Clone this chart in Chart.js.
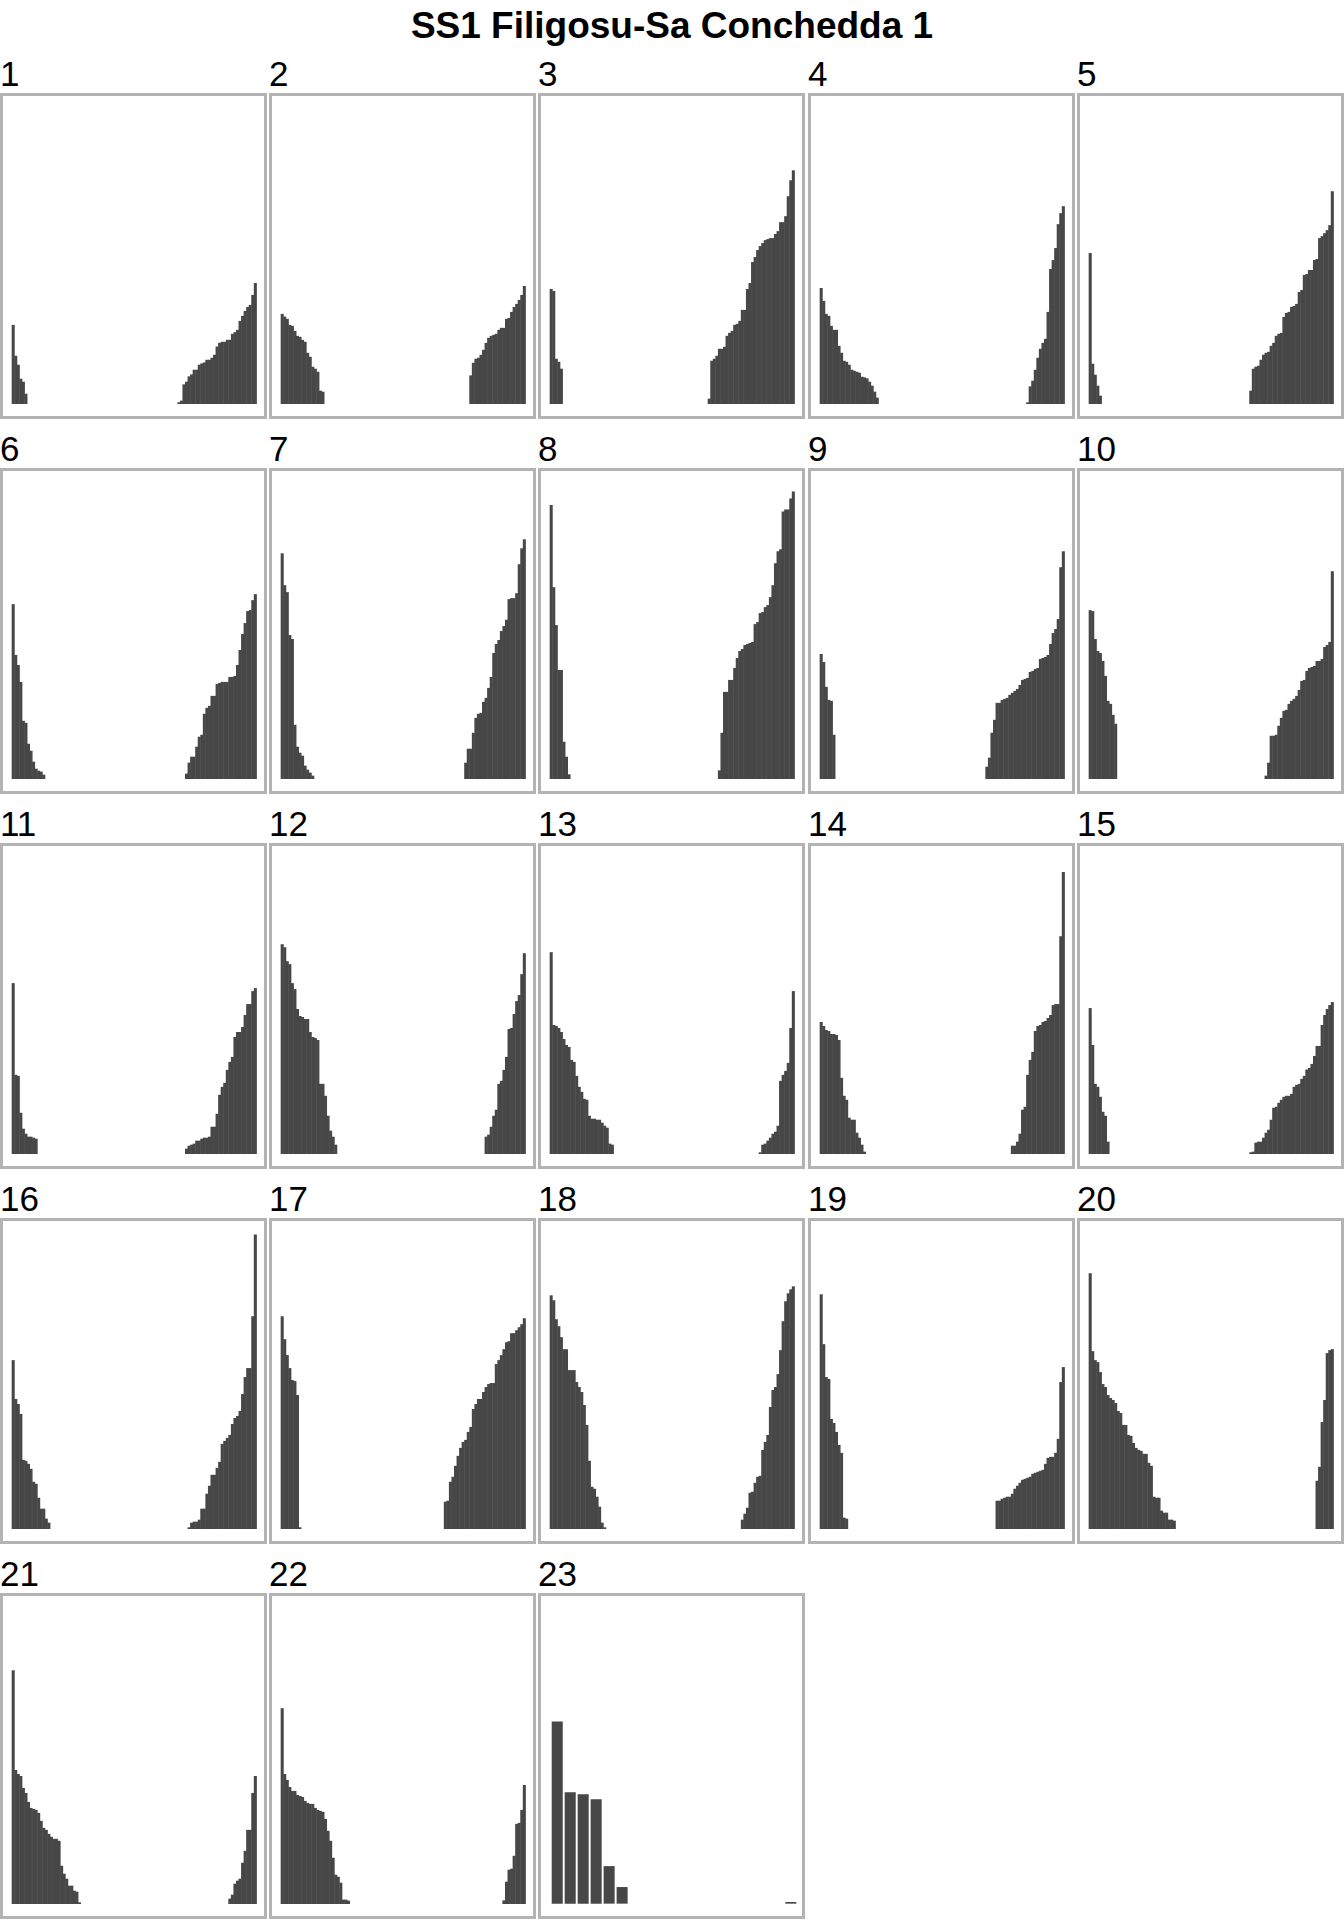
<!DOCTYPE html>
<html><head><meta charset="utf-8">
<script src="https://cdn.jsdelivr.net/npm/chart.js@4.4.1/dist/chart.umd.min.js"></script>
<style>
html,body{margin:0;padding:0;background:#fff;}
body{width:1344px;height:1920px;position:relative;overflow:hidden;font-family:"Liberation Sans",Arial,sans-serif;}
#title{position:absolute;left:0;width:1344px;top:7px;text-align:center;font-weight:bold;font-size:37px;line-height:37px;color:#000;white-space:nowrap;}
.lab{position:absolute;font-size:35px;line-height:35px;color:#000;white-space:nowrap;}
.box{position:absolute;width:261px;height:320px;border:3px solid #b3b3b3;background:#fff;}
.box canvas{position:absolute;left:0;top:0;}
</style></head><body>
<div id="title">SS1 Filigosu-Sa Conchedda 1</div>
<script>
// ---- data (relative bar heights) ----
const panelNames = ['1','2','3','4','5','6','7','8','9','10','11','12','13','14','15','16','17','18','19','20','21','22','23'];
const N_CATS = 96;          // categories per panel for panels 1-22
const N_CATS_23 = 19;       // categories in panel 23

// leading group (starting at category 1) per panel 1-22
const leftValues = [
  [236,143,116,74,65,29],
  [269,261,254,236,233,218,203,200,191,185,152,140,110,104,95,38,35],
  [344,338,134,125,104],
  [347,308,269,263,233,221,221,173,152,128,125,116,101,98,95,92,80,78,75,65,53,35,17],
  [452,119,86,53,23],
  [524,371,341,290,173,167,104,83,50,29,23,20,11],
  [677,581,560,431,419,161,95,77,68,38,26,17,8],
  [822,575,461,326,326,110,65,12],
  [374,350,275,236,233,131],
  [506,503,419,383,377,353,308,233,224,191,164],
  [512,236,233,122,74,59,50,50,47,44],
  [629,620,578,569,512,494,434,413,410,404,404,365,350,347,341,209,209,173,113,68,50,26],
  [605,386,383,377,365,344,326,320,281,275,233,200,185,164,161,113,104,104,101,101,92,83,77,29,26],
  [395,383,371,368,359,359,356,341,227,173,161,107,101,101,62,47,26,5],
  [437,326,209,200,170,125,113,35],
  [506,389,374,344,206,203,194,179,140,134,92,59,59,29,17],
  [638,569,521,482,446,443,401,3],
  [701,686,629,608,575,539,539,476,476,476,440,425,410,371,311,203,125,119,95,65,17,3],
  [704,554,455,449,329,317,290,251,227,32,29],
  [767,533,506,500,470,434,425,401,392,386,377,353,347,311,311,281,278,257,242,236,233,224,224,197,188,95,92,92,53,47,47,26,26,23],
  [701,401,389,383,347,332,305,287,284,281,272,248,227,221,209,200,194,194,188,113,89,74,53,53,38,35,3],
  [587,389,371,350,338,338,326,323,320,308,302,299,299,287,281,278,275,254,218,188,137,86,80,62,11,11,8]
];
// trailing group (ending at the last category) per panel 1-22
const rightValues = [
  [3,8,57,65,81,87,101,101,116,120,123,131,131,137,146,171,182,185,185,191,191,209,214,221,248,263,278,290,296,326,362],
  [84,122,134,137,146,161,182,197,203,206,209,221,227,227,254,257,275,290,299,311,326,353],
  [14,128,134,143,164,164,170,203,212,218,236,239,248,281,281,344,362,425,440,461,473,482,491,494,497,497,509,518,545,545,563,623,671,701],
  [3,51,68,101,137,164,182,194,275,404,431,467,539,572,593],
  [38,104,110,113,131,146,152,155,173,182,203,209,212,260,272,275,290,293,299,335,341,386,389,401,401,431,434,497,503,512,521,536,638],
  [14,47,65,65,95,125,131,194,212,218,248,248,284,287,290,290,290,305,305,308,341,386,434,467,503,506,536,554],
  [47,89,89,137,182,194,197,230,242,272,305,377,404,416,443,458,477,539,542,542,557,644,692,719],
  [24,137,260,260,296,296,332,362,383,389,401,404,407,410,464,470,497,500,515,521,545,581,647,683,689,803,809,809,842,863],
  [35,62,137,176,227,227,236,239,242,251,257,263,269,281,296,299,302,320,323,329,332,359,362,365,371,404,437,449,479,635,683],
  [8,47,128,128,131,158,182,203,206,224,233,239,248,266,293,296,323,332,335,338,353,353,359,395,401,410,623],
  [14,23,26,29,38,38,44,47,47,50,80,80,119,176,200,212,251,275,290,350,365,365,380,416,449,449,488,497],
  [50,56,80,113,131,209,218,251,290,374,377,419,458,476,539,602],
  [3,26,29,38,47,59,65,83,218,236,248,272,377,488],
  [23,23,35,59,131,140,236,281,305,368,383,386,395,398,407,416,446,449,449,653,846],
  [3,5,32,35,35,47,62,71,101,137,140,152,161,170,173,173,179,200,206,209,224,233,252,257,269,293,323,323,386,416,434,446,455],
  [3,17,20,20,26,59,59,104,128,161,161,182,200,254,263,272,281,314,332,338,353,404,455,482,482,638,884],
  [80,83,140,155,188,218,242,260,266,290,305,359,374,389,389,410,425,434,437,437,494,506,521,539,560,563,587,587,596,605,614,632],
  [26,44,62,107,110,137,155,158,236,260,281,365,416,425,464,536,623,683,707,719,728],
  [83,83,89,92,95,95,104,119,128,137,146,149,152,155,164,167,170,173,176,194,212,215,215,227,269,440,485],
  [143,185,320,386,527,536,539],
  [14,26,59,68,74,122,158,221,221,332,383],
  [9,65,101,104,143,239,242,281,356]
];
// panel 23 (its own categories)
const panel23Values = [548,335,329,314,113,50,0,0,0,0,0,0,0,0,0,0,0,0,5];

// ---- layout ----
const colLeft = [0, 269, 538, 808, 1077];
const rowTop = [93, 468, 843, 1218, 1593];
const BAR_COLOR = '#474747';

function seriesFor(i) {
  if (i === 22) return panel23Values;
  const L = leftValues[i], R = rightValues[i];
  const gap = N_CATS - L.length - R.length;
  return L.concat(new Array(gap).fill(0), R);
}
function categoriesFor(i) {
  const n = (i === 22) ? N_CATS_23 : N_CATS;
  return Array.from({length: n}, (_, k) => k + 1);
}

let ymax = 0;
leftValues.concat(rightValues, [panel23Values]).forEach(a => a.forEach(v => { if (v > ymax) ymax = v; }));
const yMin = -0.042 * ymax, yMax = 1.047 * ymax;

panelNames.forEach((name, i) => {
  const r = Math.floor(i / 5), c = i % 5;
  const lab = document.createElement('div');
  lab.className = 'lab';
  lab.textContent = name;
  lab.style.left = colLeft[c] + 'px';
  lab.style.top = (rowTop[r] - 37) + 'px';
  document.body.appendChild(lab);

  const box = document.createElement('div');
  box.className = 'box';
  box.style.left = colLeft[c] + 'px';
  box.style.top = rowTop[r] + 'px';
  const cv = document.createElement('canvas');
  cv.width = 261; cv.height = 320;
  cv.style.width = '261px'; cv.style.height = '320px';
  box.appendChild(cv);
  document.body.appendChild(box);

  const is23 = (i === 22);
  const xmin = is23 ? -0.25 : -3.0;
  const xmax = is23 ? 19.86 : 99.4;

  new Chart(cv, {
    type: 'bar',
    data: {
      labels: categoriesFor(i),
      datasets: [{
        data: seriesFor(i),
        backgroundColor: BAR_COLOR,
        borderWidth: 0,
        inflateAmount: (ctx) => (is23 || !(ctx.raw > 0)) ? 0 : 0.35,
        barPercentage: is23 ? 0.85 : 0.92,
        categoryPercentage: 1.0
      }]
    },
    options: {
      responsive: false,
      animation: false,
      devicePixelRatio: 1,
      layout: { padding: 0 },
      plugins: { legend: { display: false }, tooltip: { enabled: false }, title: { display: false } },
      scales: {
        x: { type: 'linear', min: xmin, max: xmax, offset: false, display: false, grid: { display: false } },
        y: { min: yMin, max: yMax, display: false, grid: { display: false } }
      }
    }
  });
});
</script>
</body></html>
